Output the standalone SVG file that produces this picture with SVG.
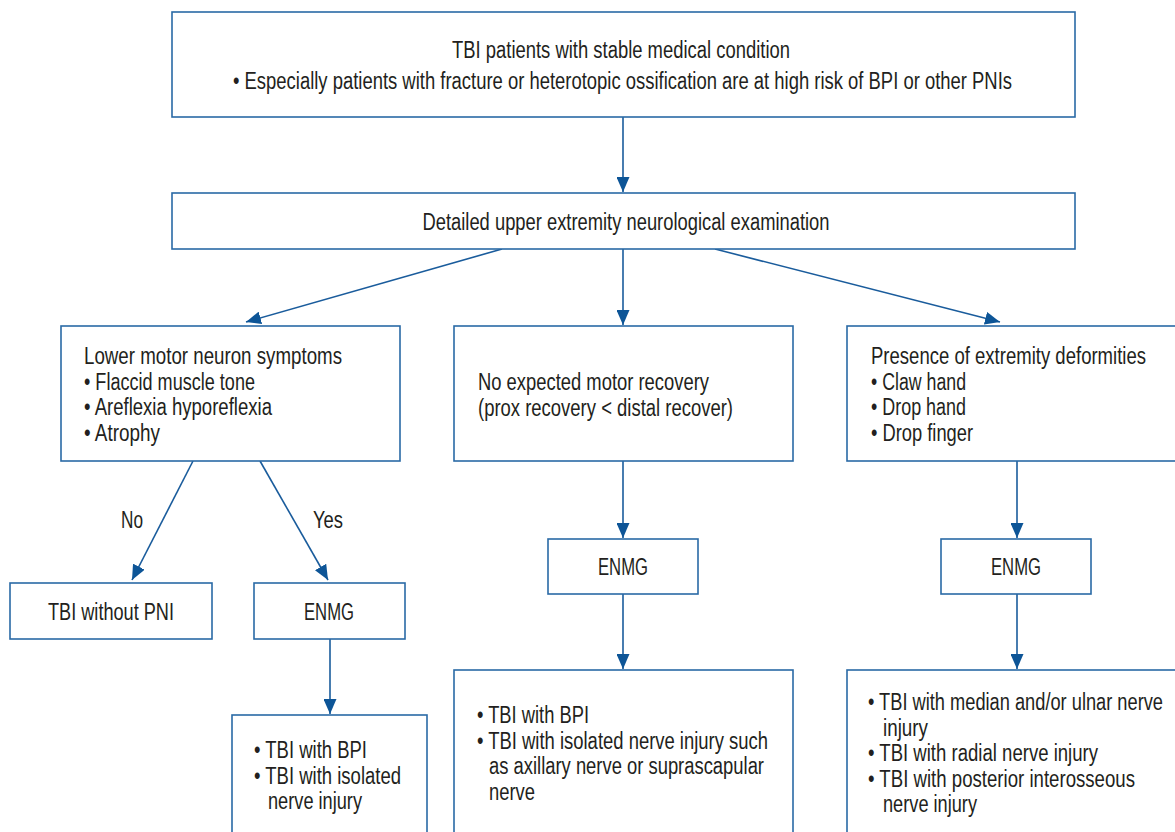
<svg xmlns="http://www.w3.org/2000/svg" width="1175" height="832" viewBox="0 0 1175 832">
<defs>
<style>
.box{fill:#fff;stroke:#2a6aa6;stroke-width:1.6}
.t{font-family:"Liberation Sans",Arial,sans-serif;font-size:23px;fill:#231f20}
.c{text-anchor:middle}
.ln{stroke:#1a5c9c;stroke-width:1.6;fill:none}
</style>
<marker id="ah" markerUnits="userSpaceOnUse" markerWidth="16" markerHeight="13" refX="15" refY="6.5" orient="auto">
<path d="M0,0 L15,6.5 L0,13 z" fill="#0d5597"/>
</marker>
</defs>
<rect width="1175" height="832" fill="#fff"/>
<g id="connectors">
<line class="ln" x1="623" y1="117" x2="623" y2="192" marker-end="url(#ah)"/>
<line class="ln" x1="502" y1="249" x2="246" y2="322" marker-end="url(#ah)"/>
<line class="ln" x1="623" y1="249" x2="623" y2="325" marker-end="url(#ah)"/>
<line class="ln" x1="715" y1="249" x2="1000" y2="322" marker-end="url(#ah)"/>
<line class="ln" x1="193" y1="461" x2="132" y2="580" marker-end="url(#ah)"/>
<line class="ln" x1="260" y1="461" x2="328" y2="580" marker-end="url(#ah)"/>
<line class="ln" x1="330" y1="639" x2="330" y2="714" marker-end="url(#ah)"/>
<line class="ln" x1="623" y1="461" x2="623" y2="538" marker-end="url(#ah)"/>
<line class="ln" x1="623" y1="594" x2="623" y2="669" marker-end="url(#ah)"/>
<line class="ln" x1="1017" y1="461" x2="1017" y2="538" marker-end="url(#ah)"/>
<line class="ln" x1="1017" y1="594" x2="1017" y2="669" marker-end="url(#ah)"/>
<text class="t c" x="132" y="528" textLength="22" lengthAdjust="spacingAndGlyphs">No</text>
<text class="t c" x="328" y="528" textLength="30" lengthAdjust="spacingAndGlyphs">Yes</text>
</g>
<g id="n-top">
<rect class="box" x="172" y="12" width="903" height="105"/>
<text class="t c" x="621" y="58" textLength="338" lengthAdjust="spacingAndGlyphs">TBI patients with stable medical condition</text>
<text class="t c" x="622.5" y="89" textLength="779" lengthAdjust="spacingAndGlyphs">• Especially patients with fracture or heterotopic ossification are at high risk of BPI or other PNIs</text>
</g>
<g id="n-exam">
<rect class="box" x="172" y="193" width="903" height="56"/>
<text class="t c" x="626" y="230" textLength="407" lengthAdjust="spacingAndGlyphs">Detailed upper extremity neurological examination</text>
</g>
<g id="n-lmn">
<rect class="box" x="61" y="326" width="339" height="135"/>
<text class="t" x="84" y="364" textLength="258" lengthAdjust="spacingAndGlyphs">Lower motor neuron symptoms</text>
<text class="t" x="84" y="390" textLength="171" lengthAdjust="spacingAndGlyphs">• Flaccid muscle tone</text>
<text class="t" x="84" y="415" textLength="188" lengthAdjust="spacingAndGlyphs">• Areflexia hyporeflexia</text>
<text class="t" x="84" y="441" textLength="76" lengthAdjust="spacingAndGlyphs">• Atrophy</text>
</g>
<g id="n-recovery">
<rect class="box" x="454" y="326" width="339" height="135"/>
<text class="t" x="478" y="390" textLength="231" lengthAdjust="spacingAndGlyphs">No expected motor recovery</text>
<text class="t" x="478" y="416" textLength="255" lengthAdjust="spacingAndGlyphs">(prox recovery &lt; distal recover)</text>
</g>
<g id="n-deform">
<rect class="box" x="847" y="326" width="340" height="135"/>
<text class="t" x="871" y="364" textLength="275" lengthAdjust="spacingAndGlyphs">Presence of extremity deformities</text>
<text class="t" x="871" y="390" textLength="95" lengthAdjust="spacingAndGlyphs">• Claw hand</text>
<text class="t" x="871" y="415" textLength="95" lengthAdjust="spacingAndGlyphs">• Drop hand</text>
<text class="t" x="871" y="441" textLength="102" lengthAdjust="spacingAndGlyphs">• Drop finger</text>
</g>
<g id="n-nopni">
<rect class="box" x="10" y="583" width="202" height="56"/>
<text class="t c" x="111" y="620" textLength="126" lengthAdjust="spacingAndGlyphs">TBI without PNI</text>
</g>
<g id="n-enmg1">
<rect class="box" x="254" y="583" width="151" height="56"/>
<text class="t c" x="329" y="620" textLength="50" lengthAdjust="spacingAndGlyphs">ENMG</text>
</g>
<g id="n-enmg2">
<rect class="box" x="548" y="539" width="150" height="55"/>
<text class="t c" x="623" y="575" textLength="50" lengthAdjust="spacingAndGlyphs">ENMG</text>
</g>
<g id="n-enmg3">
<rect class="box" x="941" y="539" width="150" height="55"/>
<text class="t c" x="1016" y="575" textLength="50" lengthAdjust="spacingAndGlyphs">ENMG</text>
</g>
<g id="n-res1">
<rect class="box" x="232" y="715" width="195" height="130"/>
<text class="t" x="254" y="758" textLength="113" lengthAdjust="spacingAndGlyphs">• TBI with BPI</text>
<text class="t" x="254" y="784" textLength="147" lengthAdjust="spacingAndGlyphs">• TBI with isolated</text>
<text class="t" x="268" y="809" textLength="94" lengthAdjust="spacingAndGlyphs">nerve injury</text>
</g>
<g id="n-res2">
<rect class="box" x="454" y="670" width="339" height="175"/>
<text class="t" x="477" y="723" textLength="112" lengthAdjust="spacingAndGlyphs">• TBI with BPI</text>
<text class="t" x="477" y="749" textLength="291" lengthAdjust="spacingAndGlyphs">• TBI with isolated nerve injury such</text>
<text class="t" x="489" y="774" textLength="275" lengthAdjust="spacingAndGlyphs">as axillary nerve or suprascapular</text>
<text class="t" x="489" y="800" textLength="46" lengthAdjust="spacingAndGlyphs">nerve</text>
</g>
<g id="n-res3">
<rect class="box" x="847" y="670" width="340" height="175"/>
<text class="t" x="868" y="710" textLength="295" lengthAdjust="spacingAndGlyphs">• TBI with median and/or ulnar nerve</text>
<text class="t" x="883" y="736" textLength="45" lengthAdjust="spacingAndGlyphs">injury</text>
<text class="t" x="868" y="761" textLength="230" lengthAdjust="spacingAndGlyphs">• TBI with radial nerve injury</text>
<text class="t" x="868" y="787" textLength="267" lengthAdjust="spacingAndGlyphs">• TBI with posterior interosseous</text>
<text class="t" x="883" y="812" textLength="94" lengthAdjust="spacingAndGlyphs">nerve injury</text>
</g>
</svg>
